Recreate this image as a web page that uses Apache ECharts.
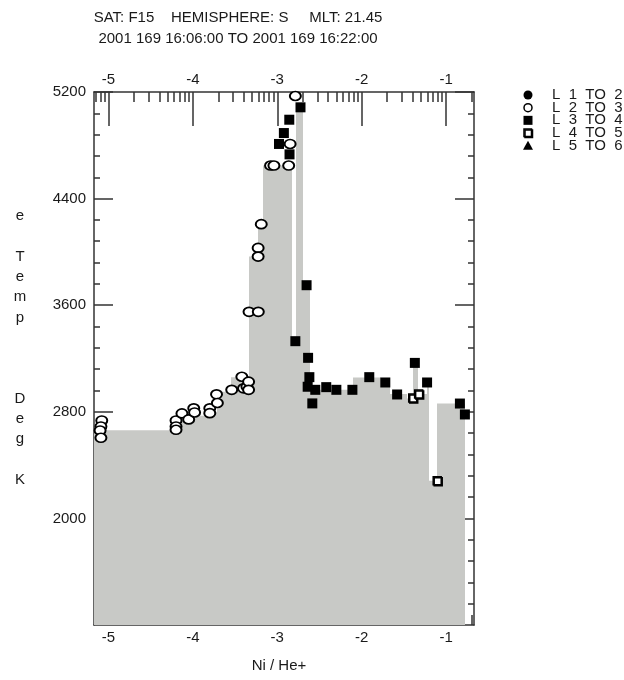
<!DOCTYPE html>
<html>
<head>
<meta charset="utf-8">
<title>DMSP F15 electron temperature</title>
<script src="https://cdn.jsdelivr.net/npm/echarts@6/dist/echarts.min.js"></script>
<style>
  html, body { margin: 0; padding: 0; background: #fff; }
  #chart { width: 624px; height: 680px; }
</style>
</head>
<body>
<div id="chart"></div>
<script>
// Header lines
const titleLines = [
  'SAT: F15    HEMISPHERE: S     MLT: 21.45',
  '2001 169 16:06:00 TO 2001 169 16:22:00'
];
const xAxisTitle = 'Ni / He+';
const yAxisTitleLines = ['e', ' ', 'T', 'e', 'm', 'p', ' ', ' ', ' ', 'D', 'e', 'g', ' ', 'K'];
const legendLabels = ['L  1  TO  2', 'L  2  TO  3', 'L  3  TO  4', 'L  4  TO  5', 'L  5  TO  6'];

// Axis ranges and labelled ticks (x is log10 of Ni/He+)
const xRange = [-5.172, -0.669];
const yRange = [1200, 5200];
const xMajorTicks = [-5, -4, -3, -2, -1];
const yMajorTicks = [2000, 2800, 3600, 4400, 5200];

// L 2 TO 3 (open circles)
const l23X = [-5.08, -5.09, -5.10, -5.09, -4.20, -4.20, -4.20, -4.13, -4.05, -3.99, -3.98,
              -3.80, -3.80, -3.72, -3.71, -3.54, -3.42, -3.40, -3.36, -3.34, -3.34,
              -3.335, -3.225, -3.227, -3.227, -3.19, -3.08, -3.04, -2.865, -2.848, -2.786];
const l23Y = [2735, 2690, 2660, 2605, 2735, 2690, 2665, 2788, 2743, 2826, 2795,
              2826, 2790, 2931, 2866, 2965, 3063, 2976, 2990, 3026, 2965,
              3550, 3550, 4030, 3965, 4208, 4648, 4648, 4648, 4810, 5170];

// L 3 TO 4 (filled squares)
const l34X = [-2.98, -2.922, -2.858, -2.855, -2.725, -2.786, -2.653, -2.635, -2.62, -2.64,
              -2.55, -2.585, -2.42, -2.30, -2.11, -1.91, -1.72, -1.58, -1.37, -1.225,
              -0.836, -0.777];
const l34Y = [4810, 4892, 4992, 4732, 5085, 3330, 3750, 3205, 3060, 2988,
              2965, 2863, 2985, 2965, 2965, 3060, 3020, 2930, 3167, 3020,
              2862, 2780];

// L 4 TO 5 (open squares)
const l45X = [-1.395, -1.325, -1.105];
const l45Y = [2903, 2933, 2283];

// Shaded temperature profile: bin edges and level of each bin
const fillEdges = [-5.172, -4.20, -4.13, -3.99, -3.80, -3.72, -3.55, -3.335, -3.225, -3.17,
                   -2.835, -2.78, -2.71, -2.63, -2.58, -2.10, -1.78, -1.68, -1.47, -1.39,
                   -1.35, -1.23, -1.21, -1.104, -0.777];
const fillLevels = [2662, 2700, 2745, 2770, 2800, 2950, 3060, 3965, 4205, 4648,
                    3330, 5090, 3750, 2990, 2965, 3058, 3025, 2933, 2900, 3167,
                    2933, 3020, 2283, 2863];

const FONT = '"Liberation Sans", Arial, Helvetica, sans-serif';
const INK = '#1a1a1a';
const FRAME = '#333';
const SHADE = '#c8c9c6';

// Log-decade minor tick positions inside the x range
const xMinorTicks = [];
for (let d = -6; d <= -1; d++) {
  for (let k = 2; k <= 9; k++) {
    const v = d + Math.log10(k);
    if (v > xRange[0] && v < xRange[1]) xMinorTicks.push(+v.toFixed(4));
  }
}
// Minor temperature ticks every 160 K
const yMinorTicks = [];
for (let v = yRange[0] + 160; v < yRange[1]; v += 160) {
  if (yMajorTicks.indexOf(v) < 0) yMinorTicks.push(v);
}

const zip = (xs, ys) => xs.map((x, i) => [x, ys[i]]);
const fillData = fillLevels.map((h, i) => [fillEdges[i], fillEdges[i + 1], h]);
const plainNumber = (v) => String(v);

function xAxisDef(position, ticks, len, withLine, withLabels) {
  return {
    type: 'value', position: position, min: xRange[0], max: xRange[1],
    axisLine: { show: withLine, onZero: false, lineStyle: { color: FRAME, width: 1.5 } },
    axisTick: { show: true, inside: true, length: len, customValues: ticks,
                lineStyle: { color: FRAME, width: 1.5 } },
    axisLabel: { show: withLabels, customValues: ticks, margin: 5, formatter: plainNumber,
                 color: INK, fontSize: 15, fontFamily: FONT },
    splitLine: { show: false }
  };
}
function yAxisDef(position, ticks, len, withLine, withLabels) {
  return {
    type: 'value', position: position, min: yRange[0], max: yRange[1],
    axisLine: { show: withLine, onZero: false, lineStyle: { color: FRAME, width: 1.5 } },
    axisTick: { show: true, inside: true, length: len, customValues: ticks,
                lineStyle: { color: FRAME, width: 1.5 } },
    axisLabel: { show: withLabels, customValues: ticks, margin: 8, formatter: plainNumber,
                 color: INK, fontSize: 15, fontFamily: FONT },
    splitLine: { show: false }
  };
}

// Legend drawn as plain shapes next to the plot
const legendX = 528, legendTextX = 552, legendY0 = 95, legendStep = 12.67;
const legendSymbols = [
  (y) => ({ type: 'circle', shape: { cx: legendX, cy: y, r: 4.5 }, style: { fill: '#000' } }),
  (y) => ({ type: 'circle', shape: { cx: legendX, cy: y, r: 4 }, style: { fill: '#fff', stroke: '#000', lineWidth: 1.5 } }),
  (y) => ({ type: 'rect', shape: { x: legendX - 4.5, y: y - 4.5, width: 9, height: 9 }, style: { fill: '#000' } }),
  (y) => ({ type: 'rect', shape: { x: legendX - 4, y: y - 4, width: 7.5, height: 7.5 },
            style: { fill: '#fff', stroke: '#000', lineWidth: 1.5, shadowColor: '#000', shadowOffsetX: 1, shadowOffsetY: 1 } }),
  (y) => ({ type: 'polygon', shape: { points: [[legendX, y - 5], [legendX + 5, y + 4], [legendX - 5, y + 4]] }, style: { fill: '#000' } })
];
const legendElements = [];
legendLabels.forEach((label, i) => {
  const y = legendY0 + i * legendStep;
  legendElements.push(legendSymbols[i](y));
  legendElements.push({ type: 'text', x: legendTextX, y: y,
    style: { text: label, fill: INK, font: '15px ' + FONT, align: 'left', verticalAlign: 'middle',
             textAlign: 'left', textVerticalAlign: 'middle' } });
});

const chart = echarts.init(document.getElementById('chart'), null, { renderer: 'canvas' });
chart.setOption({
  animation: false,
  backgroundColor: '#fff',
  grid: { left: 94, top: 92, width: 380, height: 533, containLabel: false },
  xAxis: [
    xAxisDef('bottom', xMajorTicks, 34, true, true),
    xAxisDef('bottom', xMinorTicks, 10, false, false),
    xAxisDef('top', xMajorTicks, 34, true, true),
    xAxisDef('top', xMinorTicks, 10, false, false)
  ],
  yAxis: [
    yAxisDef('left', yMajorTicks, 19, true, true),
    yAxisDef('left', yMinorTicks, 6, false, false),
    yAxisDef('right', yMajorTicks, 19, true, false),
    yAxisDef('right', yMinorTicks, 6, false, false)
  ],
  graphic: [
    { type: 'text', x: 238, y: 18, style: { text: titleLines[0], fill: INK, font: '15px ' + FONT,
      align: 'center', verticalAlign: 'middle', textAlign: 'center', textVerticalAlign: 'middle' } },
    { type: 'text', x: 238, y: 39, style: { text: titleLines[1], fill: INK, font: '15px ' + FONT,
      align: 'center', verticalAlign: 'middle', textAlign: 'center', textVerticalAlign: 'middle' } },
    { type: 'text', x: 279, y: 666, style: { text: xAxisTitle, fill: INK, font: '15px ' + FONT,
      align: 'center', verticalAlign: 'middle', textAlign: 'center', textVerticalAlign: 'middle' } },
    { type: 'text', x: 20, y: 348, style: { text: yAxisTitleLines.join('\n'), fill: INK, font: '15px ' + FONT,
      lineHeight: 20.3, align: 'center', verticalAlign: 'middle', textAlign: 'center', textVerticalAlign: 'middle' } },
    { type: 'group', children: legendElements }
  ],
  series: [
    {
      name: 'profile', type: 'custom', xAxisIndex: 0, yAxisIndex: 0, clip: true, z: 1,
      encode: { x: [0, 1], y: 2 },
      data: fillData,
      renderItem: function (params, api) {
        const top = api.coord([api.value(0), api.value(2)]);
        const bottom = api.coord([api.value(1), yRange[0]]);
        // each bin reaches 1px under its right neighbour so no seam shows between bins
        const x0 = Math.round(top[0]);
        const x1 = Math.round(bottom[0]);
        const isLast = params.dataIndex === fillLevels.length - 1;
        return {
          type: 'rect',
          shape: { x: x0, y: top[1], width: x1 - x0 + (isLast ? 0 : 1), height: bottom[1] - top[1] },
          style: { fill: SHADE }
        };
      }
    },
    {
      name: 'L 2 TO 3', type: 'scatter', xAxisIndex: 0, yAxisIndex: 0, z: 3,
      symbol: 'circle', symbolSize: [11, 9],
      itemStyle: { color: '#fff', borderColor: '#000', borderWidth: 1.8, opacity: 1 },
      data: zip(l23X, l23Y)
    },
    {
      name: 'L 3 TO 4', type: 'scatter', xAxisIndex: 0, yAxisIndex: 0, z: 4,
      symbol: 'rect', symbolSize: 10,
      itemStyle: { color: '#000', opacity: 1 },
      data: zip(l34X, l34Y)
    },
    {
      name: 'L 4 TO 5', type: 'scatter', xAxisIndex: 0, yAxisIndex: 0, z: 5,
      symbol: 'rect', symbolSize: 8,
      itemStyle: { color: '#fff', borderColor: '#000', borderWidth: 1.5, opacity: 1,
                   shadowColor: '#000', shadowOffsetX: 1, shadowOffsetY: 1, shadowBlur: 0 },
      data: zip(l45X, l45Y)
    }
  ]
});
</script>
</body>
</html>
